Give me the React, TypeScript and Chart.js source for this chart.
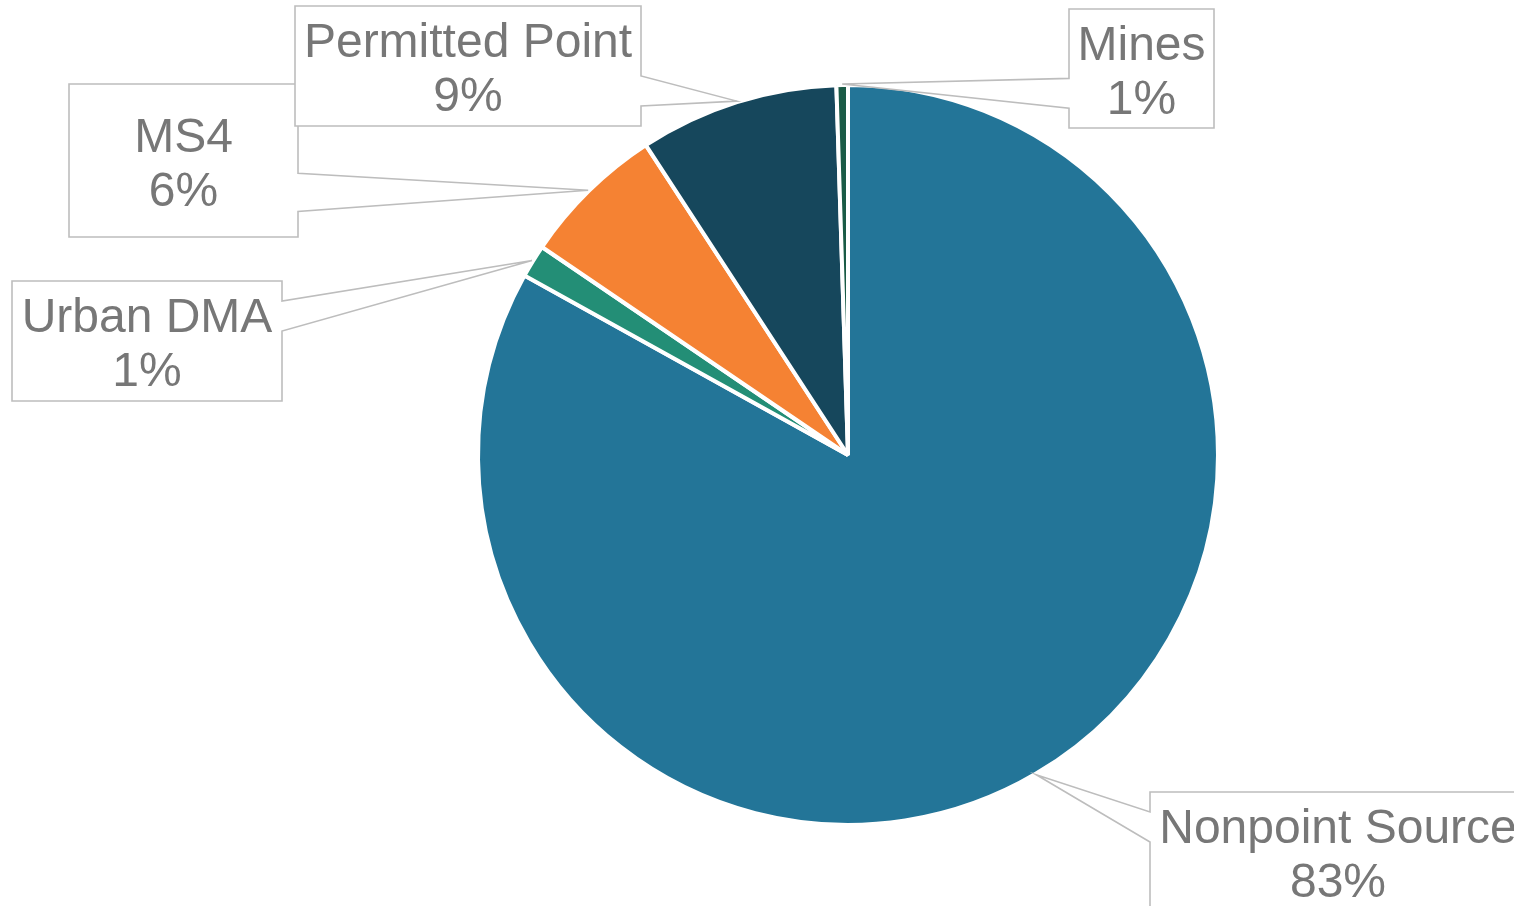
import React, { useEffect, useRef } from "react";
import { Chart, registerables } from "chart.js";

Chart.register(...registerables);

// ---- data ----
const categories = ["Nonpoint Source", "Urban DMA", "MS4", "Permitted Point", "Mines"];
const shares = [83.06, 1.44, 6.3, 8.7, 0.5];
const sliceColors = ["#237598", "#238e76", "#f58233", "#16475c", "#1a5b46"];

// ---- layout of the callout boxes (x, y, w, h), in series order ----
const calloutBoxes = [
  { x: 1150, y: 792, w: 376, h: 120 },
  { x: 12, y: 281, w: 270, h: 120 },
  { x: 69, y: 84, w: 229, h: 153 },
  { x: 295, y: 6, w: 346, h: 120 },
  { x: 1069, y: 9, w: 145, h: 119 },
];

const FONT_SIZE = 48;
const TEXT_COLOR = "#777777";
const BOX_COLOR = "#bdbdbd";

const calloutPlugin = {
  id: "callouts",
  afterDraw(chart: any) {
    const ctx: CanvasRenderingContext2D = chart.ctx;
    const meta = chart.getDatasetMeta(0);
    const data: number[] = chart.data.datasets[0].data;
    const total = data.reduce((a, b) => a + b, 0);
    ctx.save();
    meta.data.forEach((arc: any, i: number) => {
      const b = calloutBoxes[i];
      if (!b) return;
      const p = arc.getProps(["x", "y", "startAngle", "endAngle", "outerRadius"], true);
      const mid = (p.startAngle + p.endAngle) / 2;
      const r = p.outerRadius + 1;
      const tx = p.x + Math.cos(mid) * r;
      const ty = p.y + Math.sin(mid) * r;
      const L = b.x, T = b.y, R = b.x + b.w, B = b.y + b.h;
      const cx = L + b.w / 2, cy = T + b.h / 2;
      const dx = tx - cx, dy = ty - cy;
      const pts: [number, number][] = [];
      const sideLR = Math.abs(dy) <= Math.abs(dx) * b.h / b.w;
      if (sideLR) {
        const yA = T + b.h * (dy > 0 ? 7 / 12 : 2 / 12);
        const yB = T + b.h * (dy > 0 ? 10 / 12 : 5 / 12);
        if (dx > 0) {
          pts.push([L, T], [R, T], [R, yA], [tx, ty], [R, yB], [R, B], [L, B]);
        } else {
          pts.push([L, T], [R, T], [R, B], [L, B], [L, yB], [tx, ty], [L, yA]);
        }
      } else {
        const xA = L + b.w * (dx > 0 ? 7 / 12 : 2 / 12);
        const xB = L + b.w * (dx > 0 ? 10 / 12 : 5 / 12);
        if (dy > 0) {
          pts.push([L, T], [R, T], [R, B], [xB, B], [tx, ty], [xA, B], [L, B]);
        } else {
          pts.push([L, T], [xA, T], [tx, ty], [xB, T], [R, T], [R, B], [L, B]);
        }
      }
      ctx.beginPath();
      pts.forEach(([px, py], k) => (k === 0 ? ctx.moveTo(px, py) : ctx.lineTo(px, py)));
      ctx.closePath();
      ctx.fillStyle = "#ffffff";
      ctx.fill();
      ctx.lineWidth = 1.6;
      ctx.strokeStyle = BOX_COLOR;
      ctx.lineJoin = "miter";
      ctx.stroke();

      ctx.fillStyle = TEXT_COLOR;
      ctx.font = `${FONT_SIZE}px "Liberation Sans", Arial, sans-serif`;
      ctx.textAlign = "center";
      ctx.textBaseline = "alphabetic";
      const pct = Math.round((data[i] / total) * 100) + "%";
      ctx.fillText(chart.data.labels[i], cx, cy + 18 - 27);
      ctx.fillText(pct, cx, cy + 18 + 27);
    });
    ctx.restore();
  },
};

export default function App() {
  const canvasRef = useRef<HTMLCanvasElement | null>(null);
  useEffect(() => {
    if (!canvasRef.current) return;
    const chart = new Chart(canvasRef.current, {
      type: "pie",
      data: {
        labels: categories,
        datasets: [
          {
            data: shares,
            backgroundColor: sliceColors,
            borderColor: "#ffffff",
            borderWidth: 4,
            radius: 370,
          } as any,
        ],
      },
      options: {
        responsive: false,
        animation: false,
        layout: { padding: { left: 480, right: 298, top: 87, bottom: 83 } },
        plugins: {
          legend: { display: false },
          tooltip: { enabled: false },
        },
      },
      plugins: [calloutPlugin],
    });
    return () => chart.destroy();
  }, []);
  return (
    <div style={{ position: "fixed", left: 0, top: 0, width: 1514, height: 906, background: "#fff" }}>
      <canvas ref={canvasRef} width={1514} height={906} style={{ display: "block" }} />
    </div>
  );
}
